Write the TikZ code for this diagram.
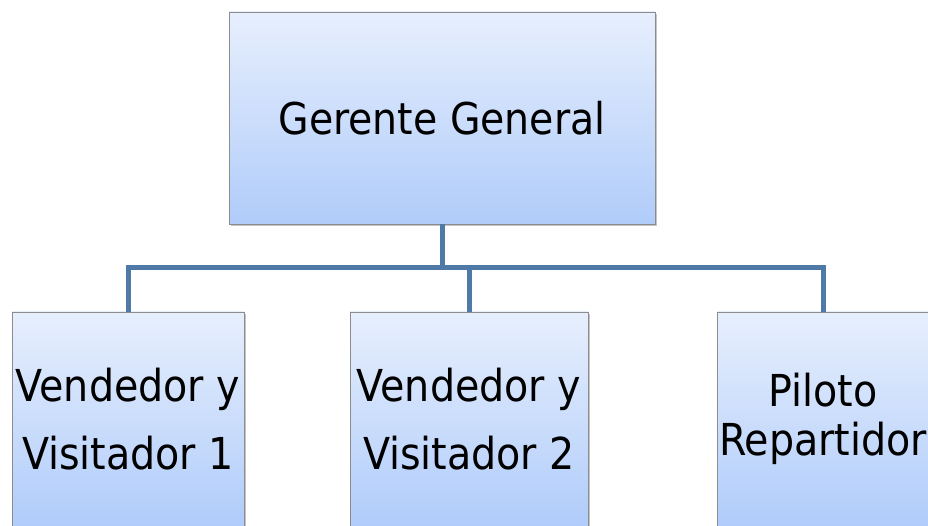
\documentclass[tikz,border=0pt]{standalone}
\usepackage{fontspec}
\setmainfont{DejaVu Sans Condensed}
\usetikzlibrary{shadows}
\definecolor{boxtop}{RGB}{231,239,253}
\definecolor{boxbot}{RGB}{176,204,250}
\definecolor{linkcol}{RGB}{79,121,166}
\definecolor{edgecol}{RGB}{140,140,140}
\begin{document}
\begin{tikzpicture}[x=1pt,y=1pt,
  orgbox/.style={draw=edgecol, line width=0.8pt, top color=boxtop, bottom color=boxbot,
    drop shadow={shadow xshift=2pt, shadow yshift=-2.5pt, opacity=0.45},
    inner sep=0pt, align=center, text=black},
  link/.style={draw=linkcol, line width=5pt, line join=miter}]
\clip (0,0) rectangle (928,525);
\fill[white] (0,0) rectangle (928,525);
\node[orgbox, minimum width=426pt, minimum height=212pt, font=\fontsize{43.8}{50}\selectfont] (gg) at (442,525-118) {Gerente General};
\node[orgbox, minimum width=232pt, minimum height=214pt, font=\fontsize{44}{68}\selectfont] (v1) at (128,525-419) {Vendedor y\\Visitador 1};
\node[orgbox, minimum width=238pt, minimum height=214pt, font=\fontsize{44}{68}\selectfont] (v2) at (469,525-419) {Vendedor y\\Visitador 2};
\node[orgbox, minimum width=212pt, minimum height=214pt, font=\fontsize{44}{49}\selectfont] (rp) at (823,525-419) {Piloto\\Repartidor};
\coordinate (bus) at (442,525-268);
\draw[link] (gg.south) -- (bus);
\draw[link] (bus) -| (v1.north);
\draw[link] (bus) -| (v2.north);
\draw[link] (bus) -| (rp.north);
\end{tikzpicture}
\end{document}
